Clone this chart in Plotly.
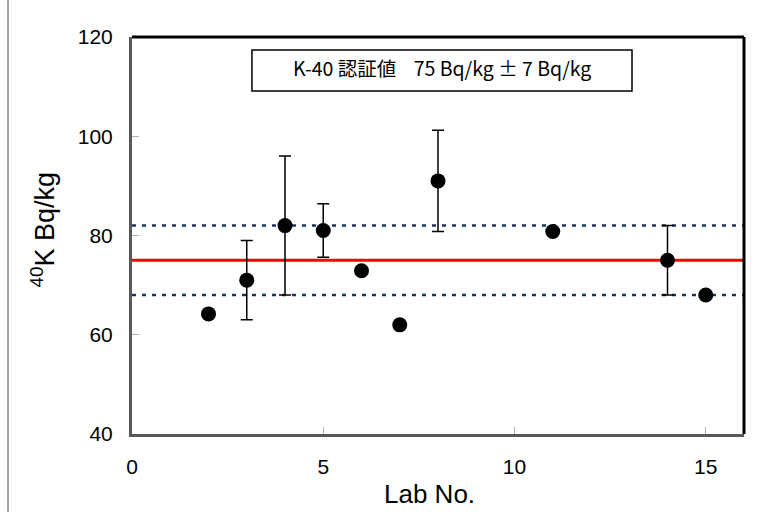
import plotly.graph_objects as go

# Reported K-40 activity per laboratory (Bq/kg) and expanded uncertainty
lab_no = [2, 3, 4, 5, 6, 7, 8, 11, 14, 15]
k40_value = [64.2, 71.0, 82.0, 81.0, 72.9, 62.0, 91.0, 80.8, 75.0, 68.0]
k40_unc = [None, 8.0, 14.0, 5.4, None, None, 10.2, None, 7.0, None]

# Certified reference value and its uncertainty
cert_value = 75
cert_unc = 7
x_span = [0, 16]

x_ticks = [0, 5, 10, 15]
y_ticks = [40, 60, 80, 100, 120]

fig = go.Figure()

# certified value and +/- uncertainty band limits
fig.add_trace(go.Scatter(
    x=x_span, y=[cert_value + cert_unc] * 2, mode="lines",
    line=dict(color="#17375e", width=2.5, dash="4px,6px"), hoverinfo="skip"))
fig.add_trace(go.Scatter(
    x=x_span, y=[cert_value - cert_unc] * 2, mode="lines",
    line=dict(color="#17375e", width=2.5, dash="4px,6px"), hoverinfo="skip"))
fig.add_trace(go.Scatter(
    x=x_span, y=[cert_value] * 2, mode="lines",
    line=dict(color="#ff0000", width=3), hoverinfo="skip"))

# labs reporting an uncertainty
with_unc = [i for i, u in enumerate(k40_unc) if u is not None]
no_unc = [i for i, u in enumerate(k40_unc) if u is None]

fig.add_trace(go.Scatter(
    x=[lab_no[i] for i in with_unc], y=[k40_value[i] for i in with_unc],
    mode="markers",
    marker=dict(color="black", size=15),
    error_y=dict(type="data", array=[k40_unc[i] for i in with_unc],
                 color="black", thickness=1.5, width=6)))
fig.add_trace(go.Scatter(
    x=[lab_no[i] for i in no_unc], y=[k40_value[i] for i in no_unc],
    mode="markers", marker=dict(color="black", size=15)))

axis_font = dict(family="Liberation Sans, Arial, sans-serif", size=21, color="black")

fig.update_xaxes(
    range=x_span, tickvals=x_ticks, ticks="inside", ticklen=7, tickwidth=1,
    tickcolor="#b0b0b0", showgrid=False, zeroline=False,
    showline=True, linecolor="#595959", linewidth=3,
    tickfont=axis_font, ticklabelstandoff=12)
fig.update_yaxes(
    range=[40, 120], tickvals=y_ticks, ticks="inside", ticklen=7, tickwidth=1,
    tickcolor="#b0b0b0", showgrid=False, zeroline=False,
    showline=True, linecolor="#595959", linewidth=3,
    tickfont=axis_font, ticklabelstandoff=12)

shapes = [
    # top and right edges of the plot frame
    dict(type="line", xref="paper", yref="paper", x0=0, x1=1, y0=1, y1=1,
         line=dict(color="black", width=3)),
    dict(type="line", xref="paper", yref="paper", x0=1, x1=1, y0=0, y1=1,
         line=dict(color="black", width=3)),
    # certified-value label box
    dict(type="rect", xref="paper", yref="paper",
         x0=0.196, x1=0.817, y0=0.864, y1=0.967,
         line=dict(color="black", width=1.5), fillcolor="white"),
    # chart-area border
    dict(type="line", xref="paper", yref="paper", x0=-0.2026, x1=-0.2026,
         y0=-0.25, y1=1.15, line=dict(color="#a6a6a6", width=2)),
]

annotations = [
    dict(text=f"K-40 認証値\u00a0\u00a0\u00a0\u00a0{cert_value} Bq/kg ± {cert_unc} Bq/kg",
         xref="paper", yref="paper", x=0.507, y=0.922,
         xanchor="center", yanchor="middle", showarrow=False,
         font=dict(family="Noto Sans CJK JP", size=19.5, color="black")),
    dict(text="Lab No.", xref="paper", yref="paper", x=0.486, y=-0.151,
         xanchor="center", yanchor="middle", showarrow=False,
         font=dict(family="Liberation Sans, Arial, sans-serif", size=26, color="black")),
    dict(text="<sup>40</sup>K Bq/kg", xref="paper", yref="paper", x=-0.146, y=0.514,
         xanchor="center", yanchor="middle", textangle=-90, showarrow=False,
         font=dict(family="Liberation Sans, Arial, sans-serif", size=27, color="black")),
]

fig.update_layout(
    width=758, height=512,
    margin=dict(l=132, r=14, t=37, b=78),
    plot_bgcolor="white", paper_bgcolor="white",
    showlegend=False, shapes=shapes, annotations=annotations,
)

fig.write_html("out.html")
